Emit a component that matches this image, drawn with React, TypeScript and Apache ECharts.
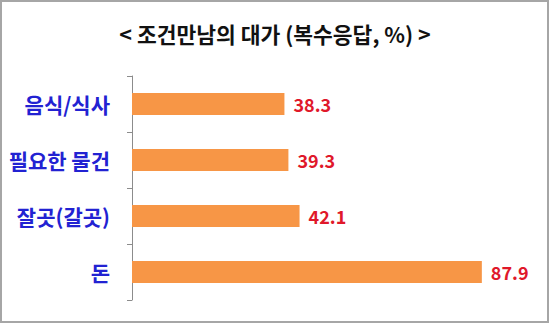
import React, { useEffect, useRef } from "react";
import * as echarts from "echarts";

const titleText = "< 조건만남의 대가 (복수응답, %) >";
const categories = ["음식/식사", "필요한 물건", "잘곳(갈곳)", "돈"];
const values = [38.3, 39.3, 42.1, 87.9];

export default function App() {
  const ref = useRef<HTMLDivElement>(null);
  useEffect(() => {
    document.body.style.margin = "0";
    const chart = echarts.init(ref.current!, null, { renderer: "svg" });
    const font = "'Noto Sans CJK KR', 'Malgun Gothic', sans-serif";
    chart.setOption({
      animation: false,
      backgroundColor: "#ffffff",
      title: {
        text: titleText,
        left: "center",
        top: 18,
        textStyle: { fontFamily: font, fontSize: 21.5, fontWeight: "bold", color: "#111111" },
      },
      graphic: [
        {
          type: "rect",
          shape: { x: 1, y: 1, width: 547, height: 321 },
          style: { fill: "none", stroke: "#a6a6a6", lineWidth: 2 },
          silent: true,
        },
      ],
      grid: { left: 132, top: 76, width: 398, height: 224 },
      xAxis: { type: "value", min: 0, max: 100, show: false },
      yAxis: {
        type: "category",
        data: categories,
        inverse: true,
        axisLine: { show: true, lineStyle: { color: "#8c8c8c", width: 1 } },
        axisTick: { show: true, length: 5, lineStyle: { color: "#8c8c8c" } },
        axisLabel: {
          margin: 22,
          color: "#2222d2",
          fontFamily: font,
          fontSize: 21,
          fontWeight: "bold",
        },
        splitLine: { show: false },
      },
      series: [
        {
          type: "bar",
          data: values,
          barWidth: 22,
          itemStyle: { color: "#f79646" },
          label: {
            show: true,
            position: "right",
            distance: 9,
            color: "#e0182a",
            fontFamily: font,
            fontSize: 18,
            fontWeight: "bold",
            formatter: (p: any) => Number(p.value).toFixed(1),
          },
        },
      ],
    });
    return () => chart.dispose();
  }, []);
  return <div ref={ref} style={{ width: 550, height: 324 }} />;
}
